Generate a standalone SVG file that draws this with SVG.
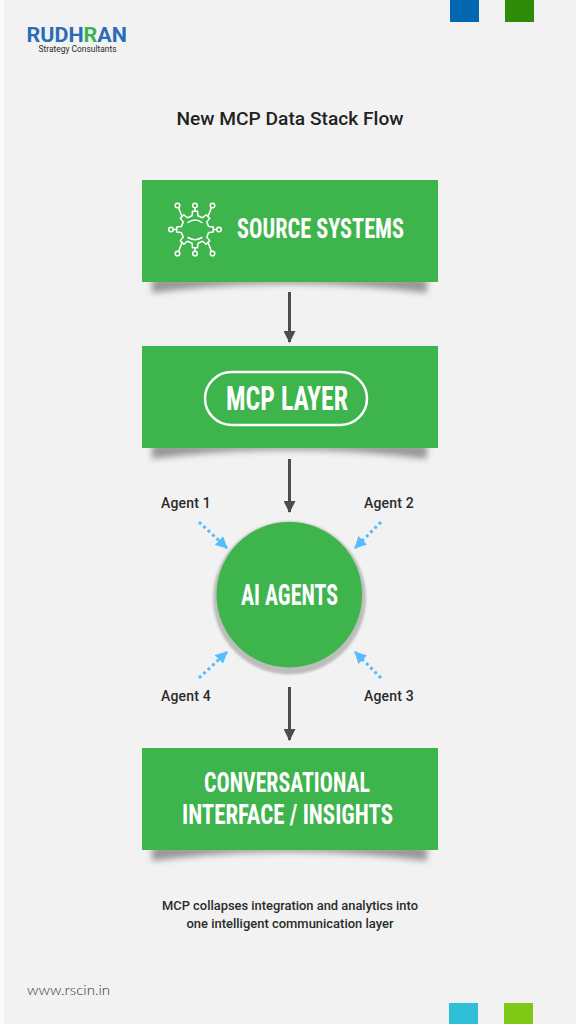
<svg xmlns="http://www.w3.org/2000/svg" width="576" height="1024" viewBox="0 0 576 1024">
<defs>
<style>
.box{fill:#3db44c}
.big{font-family:"Liberation Sans Narrow","Roboto Condensed",Roboto,sans-serif;font-weight:700;fill:#fff;text-anchor:middle}
.lab{font-family:Roboto,"Liberation Sans",sans-serif;font-weight:500;font-size:14px;fill:#2b2b2b;letter-spacing:.2px}
.cap{font-family:Roboto,"Liberation Sans",sans-serif;font-weight:500;font-size:13px;fill:#2b2b2b;text-anchor:middle}
.conn{stroke:#4d4d4d;stroke-width:3;fill:none}
.dot{stroke:#55bdfb;stroke-width:3;stroke-dasharray:3 3;fill:none}
.ic{fill:none;stroke:#fff;stroke-width:1.5;stroke-linejoin:round;stroke-linecap:round}
.sh{fill:#3c3c3c;opacity:.5;filter:url(#blur)}
</style>
<filter id="blur" x="-10%" y="-100%" width="120%" height="300%"><feGaussianBlur stdDeviation="3"/></filter>
<filter id="blur2" x="-10%" y="-10%" width="120%" height="120%"><feGaussianBlur stdDeviation="0.8"/></filter>
<marker id="ah" markerUnits="userSpaceOnUse" markerWidth="12" markerHeight="12" refX="11" refY="6" orient="auto"><path d="M0 0L12 6L0 12Z" fill="#4d4d4d"/></marker>
<marker id="bh" markerUnits="userSpaceOnUse" markerWidth="12" markerHeight="12" refX="11" refY="6" orient="auto"><path d="M0 0L12 6L0 12Z" fill="#55bdfb"/></marker>
</defs>
<rect width="576" height="1024" fill="#f2f2f2"/>
<rect width="4" height="1024" fill="#fafafa"/>
<g id="decor">
<rect x="450" y="0" width="29" height="22" fill="#0366b1"/>
<rect x="505" y="0" width="29" height="22" fill="#2f8a0a"/>
<rect x="449" y="1003" width="29" height="21" fill="#2fbfd8"/>
<rect x="504" y="1003" width="29" height="21" fill="#7fc916"/>
</g>
<g id="logo">
<text x="26.500" y="42" font-family="Roboto,'Liberation Sans',sans-serif" font-weight="700" font-size="21" fill="#2a6db5" textLength="100.500" lengthAdjust="spacingAndGlyphs">RUDH<tspan fill="#3db44c">R</tspan>AN</text>
<text x="38.500" y="52" font-family="Roboto,'Liberation Sans',sans-serif" font-weight="400" font-size="9" fill="#2b2b2b" textLength="78" lengthAdjust="spacingAndGlyphs">Strategy Consultants</text>
</g>
<text id="title" x="290" y="125" text-anchor="middle" font-family="Roboto,'Liberation Sans',sans-serif" font-weight="500" font-size="18.500" fill="#222" textLength="227" lengthAdjust="spacingAndGlyphs">New MCP Data Stack Flow</text>
<g id="connectors">
<path class="conn" d="M289.500 292V342" marker-end="url(#ah)"/>
<path class="conn" d="M289.500 459V512" marker-end="url(#ah)"/>
<path class="conn" d="M289.500 687V740" marker-end="url(#ah)"/>
<path class="dot" d="M199 522L227 548" marker-end="url(#bh)"/>
<path class="dot" d="M381 522L355 548" marker-end="url(#bh)"/>
<path class="dot" d="M381 678L355 652" marker-end="url(#bh)"/>
<path class="dot" d="M199 678L227 652" marker-end="url(#bh)"/>
</g>
<g id="source-systems">
<path class="sh" d="M152 278H427V293Q290 275 152 293Z"/>
<rect class="box" x="142" y="180" width="296" height="102"/>
<g class="ic" transform="translate(195 229.500)">
<path d="M13.690-2.910L18.320-2.570 18.320 2.570 13.690 2.910 11.740 7.620 14.770 11.130 11.130 14.770 7.620 11.740 2.910 13.690 2.570 18.320-2.570 18.320-2.910 13.690-7.620 11.740-11.130 14.770-14.770 11.130-11.740 7.620-13.690 2.910-18.320 2.570-18.320-2.570-13.690-2.910-11.740-7.620-14.770-11.130-11.130-14.770-7.620-11.740-2.910-13.690-2.570-18.320 2.570-18.320 2.910-13.690 7.620-11.740 11.130-14.770 14.770-11.130 11.740-7.620Z"/>
<path d="M-7 -7q7-5 14 0M-7 8q7 4.500 14 0"/>
<circle cx="-17.500" cy="-24" r="2.300"/><circle cx="0" cy="-24" r="2.300"/><circle cx="17.500" cy="-24" r="2.300"/>
<circle cx="-24" cy="0" r="2.300"/><circle cx="24" cy="0" r="2.300"/>
<circle cx="-17.500" cy="24" r="2.300"/><circle cx="0" cy="24" r="2.300"/><circle cx="17.500" cy="24" r="2.300"/>
<path d="M0-21.700V-18.300M0 21.700V18.300M-21.700 0H-18.300M21.700 0H18.300M-16.500-21.900L-13-13M16.500-21.900L13-13M-16.500 21.900L-13 13M16.500 21.900L13 13"/>
</g>
<text class="big" x="320.500" y="238" font-size="28" textLength="167" lengthAdjust="spacingAndGlyphs">SOURCE SYSTEMS</text>
</g>
<g id="mcp-layer">
<path class="sh" d="M152 444H427V459Q290 441 152 459Z"/>
<rect class="box" x="142" y="346" width="296" height="102"/>
<rect x="205" y="372" width="162" height="53" rx="26.500" fill="none" stroke="#fff" stroke-width="2.500"/>
<text class="big" x="287" y="410" font-size="34" textLength="122" lengthAdjust="spacingAndGlyphs">MCP LAYER</text>
</g>
<g id="ai-agents">
<circle cx="289.500" cy="598" r="76.500" fill="#bdbdbd" filter="url(#blur2)"/>
<circle class="box" cx="289.300" cy="594.700" r="72.800"/>
<text class="big" x="289.500" y="605" font-size="30" textLength="97" lengthAdjust="spacingAndGlyphs">AI AGENTS</text>
</g>
<g id="agent-1"><text class="lab" x="161" y="508">Agent 1</text></g>
<g id="agent-2"><text class="lab" x="364" y="508">Agent 2</text></g>
<g id="agent-3"><text class="lab" x="364" y="701">Agent 3</text></g>
<g id="agent-4"><text class="lab" x="161" y="701">Agent 4</text></g>
<g id="conversational">
<path class="sh" d="M152 846H427V861Q290 843 152 861Z"/>
<rect class="box" x="142" y="748" width="296" height="102"/>
<text class="big" x="287" y="792" font-size="28" textLength="166" lengthAdjust="spacingAndGlyphs">CONVERSATIONAL</text>
<text class="big" x="287.500" y="824" font-size="28" textLength="211" lengthAdjust="spacingAndGlyphs">INTERFACE / INSIGHTS</text>
</g>
<text class="cap" x="290" y="910" textLength="256" lengthAdjust="spacingAndGlyphs">MCP collapses integration and analytics into</text>
<text class="cap" x="290" y="928" textLength="207" lengthAdjust="spacingAndGlyphs">one intelligent communication layer</text>
<text id="url" x="27" y="995" font-family="Lato,'Open Sans',sans-serif" font-weight="300" font-size="14.500" fill="#333" textLength="83" lengthAdjust="spacingAndGlyphs">www.rscin.in</text>
</svg>
